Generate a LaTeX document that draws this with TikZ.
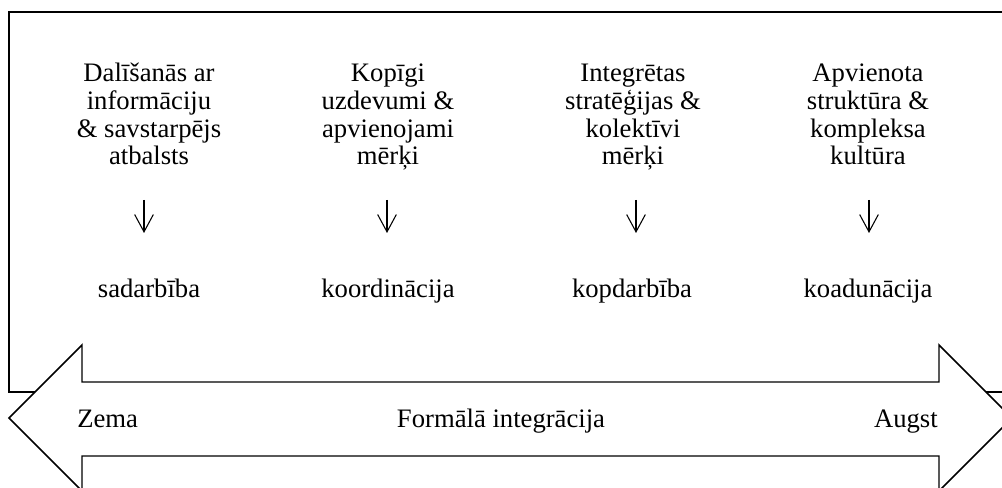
\documentclass[tikz,border=0pt]{standalone}
\usepackage{fontspec}
\setmainfont{Liberation Serif}
\usetikzlibrary{arrows.meta}
\begin{document}
\begin{tikzpicture}[x=0.75pt,y=-0.75pt,
  txt/.style={font=\fontsize{20pt}{20.8pt}\selectfont, inner sep=0pt, align=center, anchor=base},
  lbl/.style={font=\fontsize{20pt}{20.8pt}\selectfont, inner sep=0pt, anchor=base},
  frame/.style={draw=black, line width=1pt},
  blockarrow/.style={draw=black, fill=white, line width=1.1pt, line join=miter},
  down/.style={draw=black, line width=0.8pt, -{Straight Barb[length=13pt,width=14pt,line width=0.8pt]}}]
\useasboundingbox (0,0) rectangle (1002,488);
\clip (0,0) rectangle (1002,488);
% outer frame
\draw[frame] (9,12) rectangle (1014,392);
% texts (base anchor = baseline of the last line)
\node[txt] (t1) at (149,165) {Dalīšanās ar\\informāciju\\\& savstarpējs\\atbalsts};
\node[txt] (t2) at (388,165) {Kopīgi\\uzdevumi \&\\apvienojami\\mērķi};
\node[txt] (t3) at (633,165) {Integrētas\\stratēģijas \&\\kolektīvi\\mērķi};
\node[txt] (t4) at (868,165) {Apvienota\\struktūra \&\\kompleksa\\kultūra};
\node[lbl] (b1) at (149,297) {sadarbība};
\node[lbl] (b2) at (388,297) {koordinācija};
\node[lbl] (b3) at (632,297) {kopdarbība};
\node[lbl] (b4) at (868,297) {koadunācija};
% down arrows
\coordinate (a1t) at (144,200); \coordinate (a1b) at (144,233);
\coordinate (a2t) at (387,200); \coordinate (a2b) at (387,233);
\coordinate (a3t) at (636,200); \coordinate (a3b) at (636,233);
\coordinate (a4t) at (869,200); \coordinate (a4b) at (869,233);
\draw[down] (a1t) -- (a1b);
\draw[down] (a2t) -- (a2b);
\draw[down] (a3t) -- (a3b);
\draw[down] (a4t) -- (a4b);
% double block arrow
\draw[blockarrow] (9,418) -- (82,345) -- (82,382) -- (939,382) -- (939,345)
  -- (1012,418) -- (939,491) -- (939,456) -- (82,456) -- (82,491) -- cycle;
\node[lbl, anchor=base west] (zema) at (77,427) {Zema};
\node[lbl] (fi) at (501,427) {Formālā integrācija};
\node[lbl, anchor=base east] (augst) at (938,427) {Augst};
\end{tikzpicture}
\end{document}
